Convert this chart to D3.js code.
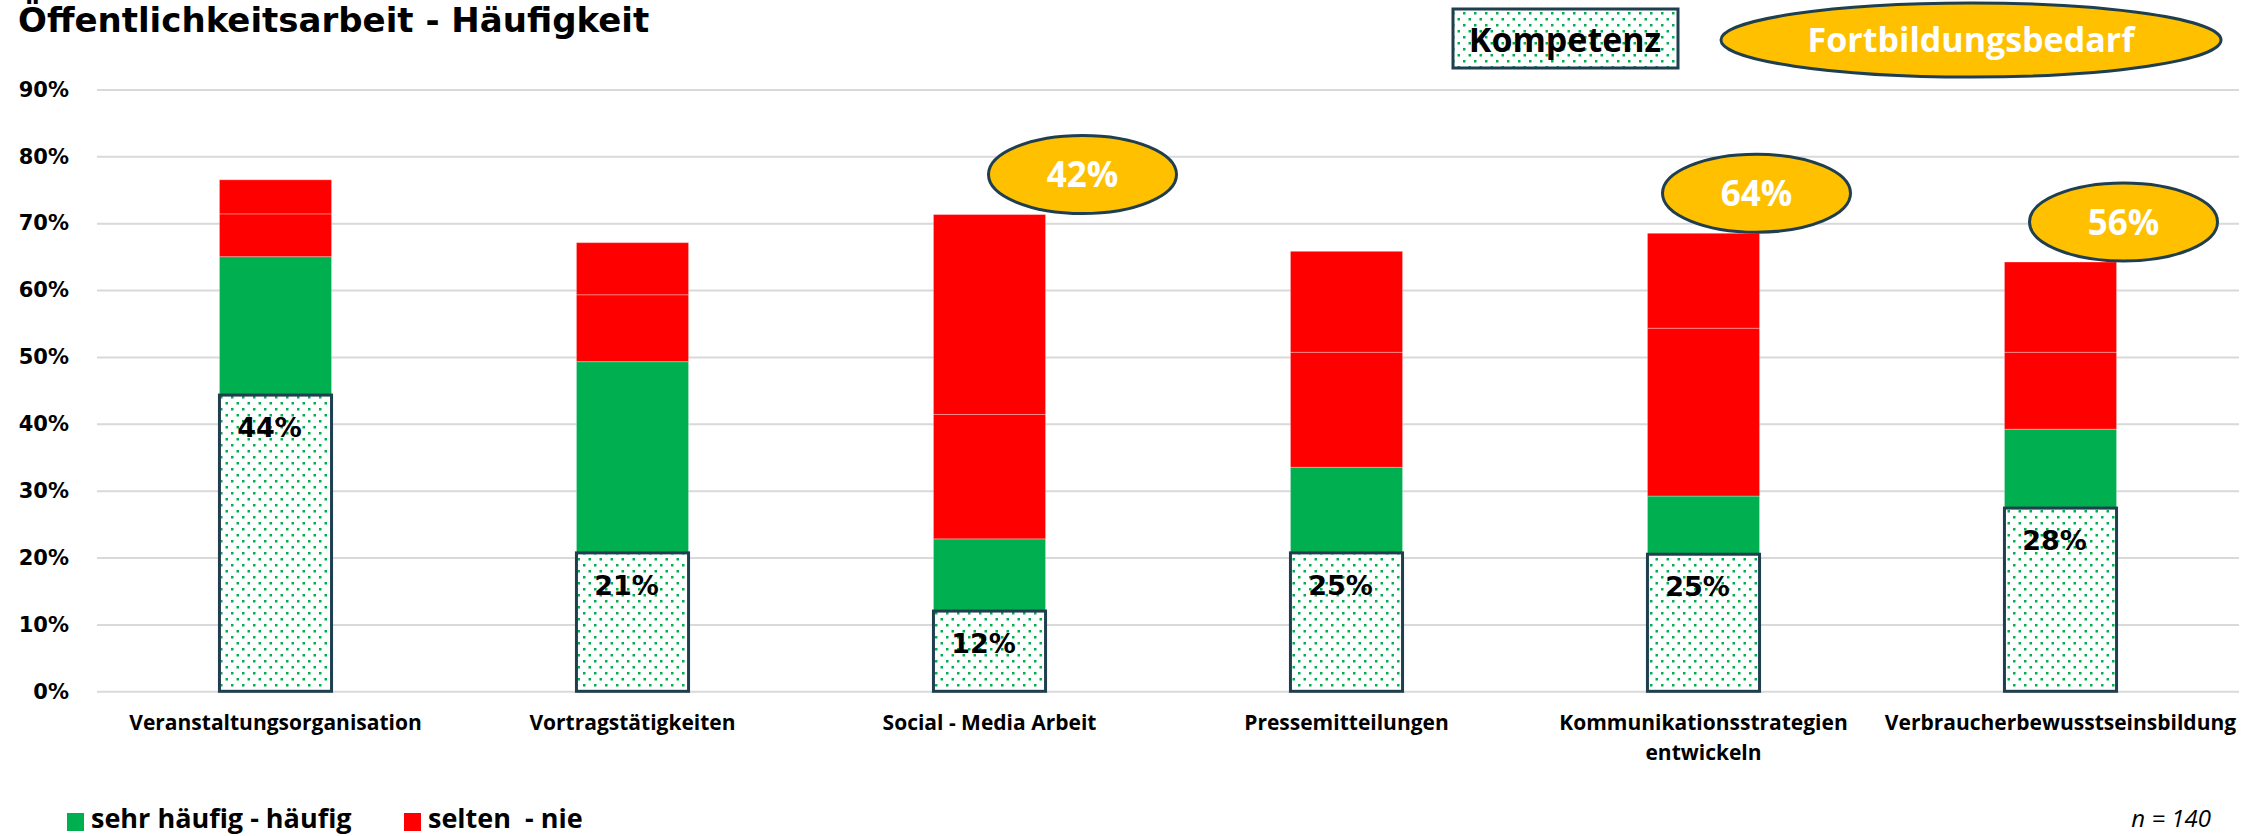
<!DOCTYPE html>
<html>
<head>
<meta charset="utf-8">
<script src="https://cdn.jsdelivr.net/npm/d3@7"></script>
<style>
  body { margin: 0; background: #fff; }
  svg { display: block; }
</style>
</head>
<body>
<div id="chart"></div>
<script>
// Öffentlichkeitsarbeit - Häufigkeit

const kategorien = ['Veranstaltungsorganisation', 'Vortragstätigkeiten', 'Social - Media Arbeit',
  'Pressemitteilungen', 'Kommunikationsstrategien entwickeln', 'Verbraucherbewusstseinsbildung'];
const haeufig = [65.0, 49.3, 22.8, 33.5, 29.2, 39.2];   // sehr häufig - häufig
const selten = [6.4, 10.0, 18.6, 17.2, 25.1, 11.5];
const nie = [5.1, 7.8, 29.9, 15.1, 14.2, 13.5];
const kompetenz = [44.3, 20.7, 12.0, 20.7, 20.5, 27.4];
const kompetenzText = ['44%', '21%', '12%', '25%', '25%', '28%'];
const fortbildung = [null, null, 42, null, 64, 56];
const yTicks = [0, 10, 20, 30, 40, 50, 60, 70, 80, 90];

const width = 2254, height = 836;
const fontBold = "'DejaVu Sans', Verdana, sans-serif";
const fontNarrow = "'Liberation Sans Narrow', 'Open Sans', sans-serif";
const rot = '#FF0000', gruen = '#00B050', rand = '#1F3F4F', gelb = '#FFC000';

const svg = d3.select('#chart').append('svg')
  .attr('width', width).attr('height', height)
  .style('background', '#fff');

// dotted pattern for "Kompetenz"
const pat = svg.append('defs').append('pattern')
  .attr('id', 'punkte').attr('patternUnits', 'userSpaceOnUse')
  .attr('width', 11).attr('height', 12);
pat.append('rect').attr('width', 11).attr('height', 12).attr('fill', '#fff');
pat.append('rect').attr('x', 0).attr('y', 0).attr('width', 2.5).attr('height', 2.5).attr('fill', gruen);
pat.append('rect').attr('x', 5.5).attr('y', 6).attr('width', 2.5).attr('height', 2.5).attr('fill', gruen);

const x = d3.scaleBand()
  .domain(d3.range(kategorien.length))
  .range([97, 2239])
  .paddingInner(0.686)
  .paddingOuter(0.343);

const y = d3.scaleLinear()
  .domain([0, 90])
  .range([691.3, 89.5]);

// gridlines + y labels
const yAxis = svg.append('g')
  .attr('transform', 'translate(97,0)')
  .call(d3.axisLeft(y).tickValues(yTicks).tickSize(-(2239 - 97)).tickPadding(28)
    .tickFormat(d => d + '%'));
yAxis.select('.domain').remove();
yAxis.selectAll('.tick line').attr('stroke', '#D9D9D9').attr('stroke-width', 2);
yAxis.selectAll('.tick text')
  .attr('font-family', fontBold).attr('font-weight', 'bold')
  .attr('font-size', '21px').attr('fill', '#000');

// stacked bars
const tabelle = kategorien.map((k, i) => ({ i: i, haeufig: haeufig[i], selten: selten[i], nie: nie[i] }));
const stapel = d3.stack().keys(['haeufig', 'selten', 'nie'])(tabelle);
const farben = { haeufig: gruen, selten: rot, nie: rot };

svg.append('g')
  .selectAll('g')
  .data(stapel)
  .join('g')
    .attr('fill', d => farben[d.key])
  .selectAll('rect')
  .data(d => d)
  .join('rect')
    .attr('x', d => x(d.data.i))
    .attr('y', d => y(d[1]))
    .attr('width', x.bandwidth())
    .attr('height', d => y(d[0]) - y(d[1]))
    .attr('stroke', 'rgba(255,255,255,0.3)')
    .attr('stroke-width', 1);

// Kompetenz boxes
svg.append('g')
  .selectAll('rect')
  .data(kompetenz)
  .join('rect')
    .attr('x', (d, i) => x(i))
    .attr('y', d => y(d))
    .attr('width', x.bandwidth())
    .attr('height', d => y(0) - y(d))
    .attr('fill', 'url(#punkte)')
    .attr('stroke', rand)
    .attr('stroke-width', 3);

svg.append('g')
  .selectAll('text')
  .data(kompetenz)
  .join('text')
    .attr('x', (d, i) => x(i) + x.bandwidth() / 2 - 6)
    .attr('y', d => y(d) + 42)
    .attr('text-anchor', 'middle')
    .attr('font-family', fontBold).attr('font-weight', 'bold')
    .attr('font-size', '27px')
    .text((d, i) => kompetenzText[i]);

// Fortbildungsbedarf bubbles
const blasenVersatz = [0, 0, 93, 0, 53, 63];
const summe = kategorien.map((k, i) => haeufig[i] + selten[i] + nie[i]);
const blasen = svg.append('g')
  .selectAll('g')
  .data(fortbildung.map((v, i) => ({ v: v, i: i })).filter(d => d.v != null))
  .join('g')
    .attr('transform', d => `translate(${x(d.i) + x.bandwidth() / 2 + blasenVersatz[d.i]},${y(summe[d.i]) - 40})`);
blasen.append('ellipse')
  .attr('rx', 94).attr('ry', 39)
  .attr('fill', gelb).attr('stroke', rand).attr('stroke-width', 3);
blasen.append('text')
  .attr('text-anchor', 'middle').attr('dy', '0.36em')
  .attr('font-family', fontNarrow).attr('font-weight', 'bold')
  .attr('font-size', '35px').attr('fill', '#fff')
  .text(d => d.v + '%');

// category labels
svg.append('g')
  .selectAll('text')
  .data(kategorien)
  .join('text')
    .attr('x', (d, i) => x(i) + x.bandwidth() / 2)
    .attr('y', 730)
    .attr('text-anchor', 'middle')
    .attr('font-family', fontNarrow).attr('font-weight', 'bold')
    .attr('font-size', '21px')
    .each(function (d) {
      const teile = d === 'Kommunikationsstrategien entwickeln' ? ['Kommunikationsstrategien', 'entwickeln'] : [d];
      d3.select(this).selectAll('tspan').data(teile).join('tspan')
        .attr('x', d3.select(this).attr('x'))
        .attr('dy', (t, j) => j ? 30 : 0)
        .text(t => t);
    });

// title
svg.append('text')
  .attr('x', 18).attr('y', 32)
  .attr('font-family', fontBold).attr('font-weight', 'bold')
  .attr('font-size', '34px')
  .text('Öffentlichkeitsarbeit - Häufigkeit');

// top legend
svg.append('rect')
  .attr('x', 1453).attr('y', 9).attr('width', 225).attr('height', 59)
  .attr('fill', 'url(#punkte)').attr('stroke', rand).attr('stroke-width', 3);
svg.append('text')
  .attr('x', 1565).attr('y', 52).attr('text-anchor', 'middle')
  .attr('font-family', fontNarrow).attr('font-weight', 'bold').attr('font-size', '34px')
  .text('Kompetenz');
svg.append('ellipse')
  .attr('cx', 1971).attr('cy', 40).attr('rx', 250).attr('ry', 37)
  .attr('fill', gelb).attr('stroke', rand).attr('stroke-width', 3);
svg.append('text')
  .attr('x', 1971).attr('y', 52).attr('text-anchor', 'middle')
  .attr('font-family', fontNarrow).attr('font-weight', 'bold').attr('font-size', '34px')
  .attr('fill', '#fff')
  .text('Fortbildungsbedarf');

// bottom legend
const legende = [{ name: 'sehr häufig - häufig', farbe: gruen, x: 67 }, { name: 'selten  - nie', farbe: rot, x: 404 }];
const lg = svg.append('g').selectAll('g').data(legende).join('g')
  .attr('transform', d => `translate(${d.x},0)`);
lg.append('rect').attr('y', 813).attr('width', 17).attr('height', 18).attr('fill', d => d.farbe);
lg.append('text').attr('x', 24).attr('y', 828)
  .attr('font-family', fontNarrow).attr('font-weight', 'bold').attr('font-size', '27px')
  .style('white-space', 'pre')
  .text(d => d.name);

svg.append('text')
  .attr('x', 2211).attr('y', 827).attr('text-anchor', 'end')
  .attr('font-family', fontNarrow).attr('font-style', 'italic').attr('font-size', '24px')
  .text('n = 140');
</script>
</body>
</html>
